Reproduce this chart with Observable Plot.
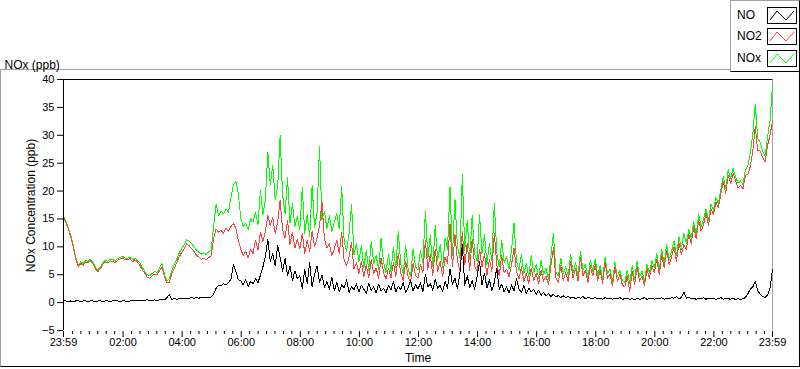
<!DOCTYPE html>
<html><head><meta charset="utf-8">
<script src="https://cdn.jsdelivr.net/npm/d3@7"></script>
<script src="https://cdn.jsdelivr.net/npm/@observablehq/plot@0.6"></script>
<style>
html,body{margin:0;padding:0;background:#fff;}
#wrap{position:relative;width:800px;height:369px;overflow:hidden;font-family:"Liberation Sans",Arial,sans-serif;}
#panel{position:absolute;left:0;top:69px;width:800px;height:298px;box-sizing:border-box;border-top:1px solid #a0a0a0;border-left:1px solid #a0a0a0;border-right:1px solid #000;border-bottom:1px solid #000;}
#legend{position:absolute;left:730px;top:0;width:70px;height:72px;box-sizing:border-box;background:#fff;border-top:1px solid #a0a0a0;border-left:1px solid #a0a0a0;border-right:1px solid #000;border-bottom:1px solid #000;}
#wrap > svg{position:absolute;left:0;top:0;}
</style>
</head><body>
<div id="wrap"><div id="panel"></div></div>
<script>
// 5-minute samples from 23:59 to 23:59 next day (one row per hour below, 12 values each, plus final)
const seriesNames = ["NO", "NO2", "NOx"];
const seriesColors = ["#000000", "#ff4040", "#00ff00"];

const NO = [
0.3,0.3,0.2,0.3,0.2,0.3,0.3,0.2,0.3,0.3,0.2,0.3,
0.3,0.2,0.3,0.3,0.2,0.3,0.3,0.2,0.3,0.3,0.3,0.2,
0.3,0.3,0.2,0.3,0.4,0.3,0.3,0.4,0.3,0.4,0.5,0.4,
0.4,0.5,0.4,0.5,0.6,0.5,0.9,1.4,0.6,0.7,0.6,0.7,
0.7,0.8,0.7,0.8,0.9,0.8,0.9,0.8,0.9,1.0,0.9,1.0,
1.0,1.5,2.6,3.1,3.0,3.4,3.2,3.6,4.2,6.8,5.6,4.1,
3.9,3.2,4.1,2.9,3.8,3.4,4.3,3.6,4.9,6.4,8.2,11.4,
7.4,8.8,6.6,10.2,8.1,5.6,7.9,4.8,6.6,3.9,5.7,4.3,
4.8,2.6,5.9,3.4,7.2,2.8,5.1,6.6,3.6,4.9,2.7,3.8,
2.4,4.6,2.1,3.6,1.9,3.2,2.6,4.1,1.8,2.9,2.3,3.4,
1.9,3.1,2.4,1.6,3.5,2.2,2.8,1.7,3.3,2.1,2.6,1.8,
3.1,2.3,3.8,1.9,2.9,2.4,3.6,1.8,2.7,3.9,2.1,3.2,
2.4,3.6,1.9,5.1,2.8,3.4,2.2,4.2,2.6,3.1,1.9,3.8,
2.6,6.1,3.2,4.4,2.5,5.2,10.4,3.1,4.8,2.7,3.9,2.4,
4.6,7.4,3.1,5.3,2.6,4.1,2.2,3.6,6.2,2.4,3.3,1.9,
2.8,1.7,3.2,2.1,4.3,2.5,1.8,3.1,1.6,2.6,1.9,2.4,
1.5,2.2,1.3,1.8,1.2,1.6,1.1,1.5,1.0,1.3,0.9,1.2,
0.9,1.1,0.8,1.0,0.7,0.9,0.8,1.1,0.7,0.9,0.8,0.7,
0.9,0.7,0.8,0.6,0.9,0.7,0.8,0.6,0.8,0.7,0.9,0.6,
0.7,0.8,0.6,0.7,0.5,0.8,0.6,0.7,0.9,0.6,0.7,0.8,
0.6,0.8,0.7,0.9,0.6,0.8,0.7,0.9,0.8,1.1,0.7,0.9,
1.9,0.8,0.9,0.7,0.8,0.6,0.8,0.7,0.9,0.6,0.8,0.7,
0.8,0.6,0.7,0.9,0.6,0.8,0.7,0.6,0.8,0.5,0.7,0.6,
0.7,0.9,1.6,2.4,2.8,3.8,2.1,1.5,1.1,0.9,1.4,2.6,
6.0];

const NO2 = [
15.3,14.3,13.1,11.7,9.9,7.8,6.5,7.0,6.7,7.3,7.1,7.5,
6.9,6.0,5.6,6.1,6.9,7.3,7.1,7.5,7.4,7.2,7.6,7.8,
8.0,7.7,7.7,7.9,7.3,7.7,7.3,6.7,5.9,5.3,4.5,4.4,
4.8,5.1,5.0,5.7,6.4,4.6,3.5,3.6,5.2,6.1,7.2,8.2,
9.0,9.6,10.6,10.2,9.7,9.2,8.5,8.2,7.8,7.9,7.7,8.1,
8.4,11.6,13.2,12.6,13.0,12.4,13.4,12.8,13.6,14.2,13.4,11.2,
9.6,8.4,9.2,8.0,9.6,8.8,11.2,9.4,12.6,11.0,12.8,15.6,
13.8,15.2,12.4,14.4,18.4,13.0,11.6,14.8,10.4,12.6,9.8,11.4,
9.6,12.4,8.8,11.2,9.2,12.8,10.0,11.6,13.8,18.0,11.4,9.8,
10.6,8.4,9.6,11.2,8.8,12.6,7.6,6.6,8.2,10.8,6.0,7.2,
5.2,7.4,4.6,6.8,4.4,7.8,5.2,6.2,4.4,8.0,5.4,4.2,
6.2,4.4,7.2,4.6,8.8,5.2,4.0,7.4,4.6,3.6,7.0,4.8,
4.4,6.8,5.4,11.2,6.0,8.6,4.8,9.6,5.6,7.4,4.6,8.2,
7.0,14.0,6.4,12.2,7.6,5.8,12.8,6.8,10.6,5.8,11.4,6.6,
5.6,9.6,6.4,8.8,4.8,7.8,5.6,12.4,6.8,4.8,8.4,5.4,
6.0,4.6,6.8,9.8,5.6,4.2,6.4,3.8,5.2,3.4,6.2,4.0,
5.2,3.4,5.8,3.8,4.8,3.2,6.6,9.8,4.4,3.6,6.6,4.0,
5.4,3.8,7.4,4.4,6.2,3.8,8.0,4.8,5.8,3.6,6.6,4.8,
6.8,4.0,5.8,3.4,7.2,4.4,5.2,3.0,6.4,3.8,5.0,3.2,
2.8,4.8,2.0,5.6,3.2,6.4,3.8,4.8,3.0,6.0,4.4,6.6,
5.4,7.8,5.0,8.6,6.2,9.4,6.8,8.2,10.0,7.4,10.8,8.6,
10.4,9.6,12.2,10.6,13.6,11.4,14.8,12.8,14.0,16.0,13.8,16.8,
15.8,18.0,17.0,19.4,21.8,19.6,22.8,21.4,23.2,21.8,20.6,21.0,
20.4,22.8,23.0,24.4,27.2,31.6,27.2,27.2,26.0,25.2,28.2,30.0,
32.6];

const NOx = [
15.6,14.6,13.4,12.0,10.2,8.1,6.8,7.3,7.0,7.6,7.4,7.8,
7.2,6.3,5.9,6.4,7.2,7.6,7.4,7.8,7.7,7.5,7.9,8.1,
8.3,8.0,7.9,8.2,7.7,8.0,7.6,7.1,6.3,5.6,5.0,4.8,
5.2,5.6,5.4,6.2,7.0,5.1,3.9,4.3,5.8,6.8,7.8,8.9,
9.7,10.4,11.3,11.0,10.6,10.0,9.4,9.0,8.7,8.9,8.6,9.1,
9.4,13.8,17.6,15.6,16.4,15.9,16.8,16.2,18.8,21.0,21.8,19.6,
15.2,13.6,14.2,13.1,15.0,14.4,16.2,14.0,20.1,15.8,18.4,27.0,
21.2,24.6,18.4,20.8,30.0,19.2,16.0,22.4,14.2,17.8,13.6,15.4,
13.0,20.6,12.4,15.8,11.8,21.0,13.4,16.2,28.0,14.8,16.4,13.2,
15.6,12.8,14.4,16.0,13.2,20.8,11.0,9.2,12.4,17.6,8.6,10.6,
7.4,10.2,6.2,9.4,5.8,11.0,7.0,8.4,6.0,11.5,7.2,5.4,
8.6,5.6,9.8,6.2,12.8,7.0,5.2,10.2,6.0,4.6,9.6,6.4,
5.8,9.4,7.2,16.4,8.0,12.0,6.4,13.8,7.6,10.4,6.2,11.6,
9.6,20.7,8.4,18.6,10.2,8.0,23.0,9.4,14.8,7.8,15.6,8.8,
7.4,15.8,8.8,12.2,6.8,10.6,7.6,17.8,9.0,6.4,11.2,7.2,
8.2,6.0,9.4,14.2,7.4,5.8,8.6,5.2,7.0,4.6,8.4,5.4,
6.8,4.4,7.6,5.0,6.2,4.2,8.4,12.4,5.6,4.6,8.0,5.2,
6.4,4.8,8.6,5.4,7.2,4.6,9.2,5.8,6.8,4.4,7.6,5.6,
7.8,4.8,6.6,4.2,8.2,5.2,6.0,3.8,7.2,4.6,5.8,4.0,
3.6,5.8,3.4,6.6,4.2,7.4,4.6,5.6,3.8,6.8,5.2,7.6,
6.2,8.8,5.8,9.6,7.0,10.4,7.6,9.2,11.0,8.4,11.8,9.6,
12.4,10.6,13.2,11.4,14.6,12.2,15.8,13.6,15.0,16.8,14.8,17.6,
16.6,18.8,17.8,20.2,22.6,20.4,23.8,22.2,24.0,22.6,21.4,21.8,
21.2,23.8,24.6,26.8,30.2,35.6,29.4,28.8,27.2,26.2,29.8,32.6,
39.0];

const yTicks = [-5, 0, 5, 10, 15, 20, 25, 30, 35, 40];
const xTickLabels = ["23:59","02:00","04:00","06:00","08:00","10:00","12:00","14:00","16:00","18:00","20:00","22:00","23:59"];

const STEP = 5 * 60 * 1000;
const tStart = new Date(Date.UTC(2000, 0, 1, 23, 59));
const tEnd = new Date(Date.UTC(2000, 0, 2, 23, 59));
const rows = NO.map((v, i) => ({time: new Date(+tStart + i * STEP), NO: v, NO2: NO2[i], NOx: NOx[i]}));

// major tick times from the labels (day 2 for clock hours, first/last 23:59 are the ends)
const majorTimes = xTickLabels.map((s, i) => {
  if (i === 0) return tStart;
  if (i === xTickLabels.length - 1) return tEnd;
  const [hh, mm] = s.split(":").map(Number);
  return new Date(Date.UTC(2000, 0, 2, hh, mm));
});
const labelOf = new Map(majorTimes.map((t, i) => [+t, xTickLabels[i]]));
// minor ticks: 6 between each pair of 2-hour majors
const minorTimes = [];
for (let h = 0; h < 24; h += 2) {
  for (let j = 1; j <= 6; j++) {
    minorTimes.push(new Date(Date.UTC(2000, 0, 2, h) + j * (120 / 7) * 60000));
  }
}

const font = "Liberation Sans, Arial, sans-serif";
const chart = Plot.plot({
  width: 800, height: 369,
  marginLeft: 63, marginRight: 28, marginTop: 79, marginBottom: 38,
  insetBottom: 1,
  style: {fontFamily: font, fontSize: "11px", color: "#000", background: "transparent", overflow: "visible"},
  x: {type: "utc", domain: [tStart, tEnd]},
  y: {domain: [-5, 40]},
  marks: [
    Plot.ruleY([40], {stroke: "#000", strokeWidth: 1}),
    Plot.ruleX([tEnd], {y1: -5, y2: 40, stroke: "#a0a0a0", strokeWidth: 1}),
    Plot.line(rows, {x: "time", y: "NOx", stroke: seriesColors[2], strokeWidth: 1, shapeRendering: "crispEdges"}),
    Plot.line(rows, {x: "time", y: "NO2", stroke: seriesColors[1], strokeWidth: 1, shapeRendering: "crispEdges"}),
    Plot.line(rows, {x: "time", y: "NO", stroke: seriesColors[0], strokeWidth: 1, shapeRendering: "crispEdges"}),
    Plot.ruleX([tStart], {y1: -5, y2: 40, stroke: "#000", strokeWidth: 1}),
    Plot.axisY({ticks: yTicks, tickSize: 6, tickPadding: 3, label: null, fontSize: 11, stroke: "#000"}),
    Plot.axisX({ticks: majorTimes, tickSize: 6, tickPadding: 1, label: null, fontSize: 11, tickFormat: d => labelOf.get(+d)}),
    Plot.axisX({ticks: minorTimes, tickSize: 3, label: null, tickFormat: () => ""}),
    Plot.text(["NOx Concentration (ppb)"], {frameAnchor: "left", textAnchor: "middle", lineAnchor: "middle", dx: -32, rotate: -90, fontSize: 12}),
    Plot.text(["Time"], {frameAnchor: "bottom", textAnchor: "middle", dy: 30, fontSize: 12}),
    Plot.text(["NOx (ppb)"], {frameAnchor: "top-left", textAnchor: "start", dx: -59, dy: -19, fontSize: 12})
  ]
});
const wrap = document.getElementById("wrap");
wrap.appendChild(chart);

// legend (decoration)
const lg = document.createElement("div");
lg.id = "legend";
const tops = [6, 27, 49];
let svg = `<svg width="68" height="70" style="position:absolute;left:0;top:0;font-family:${font};font-size:12px">`;
seriesNames.forEach((name, i) => {
  const t = tops[i];
  svg += `<text x="6" y="${t + 11.5}" fill="#000">${name}</text>`;
  svg += `<rect x="36.5" y="${t + 0.5}" width="29" height="16" fill="#fff" stroke="#000" stroke-width="1"/>`;
  svg += `<polyline points="39,${t+13} 46,${t+4} 55,${t+13} 63,${t+4}" fill="none" stroke="${seriesColors[i]}" stroke-width="1"/>`;
});
svg += `</svg>`;
lg.innerHTML = svg;
wrap.appendChild(lg);
</script>
</body></html>
